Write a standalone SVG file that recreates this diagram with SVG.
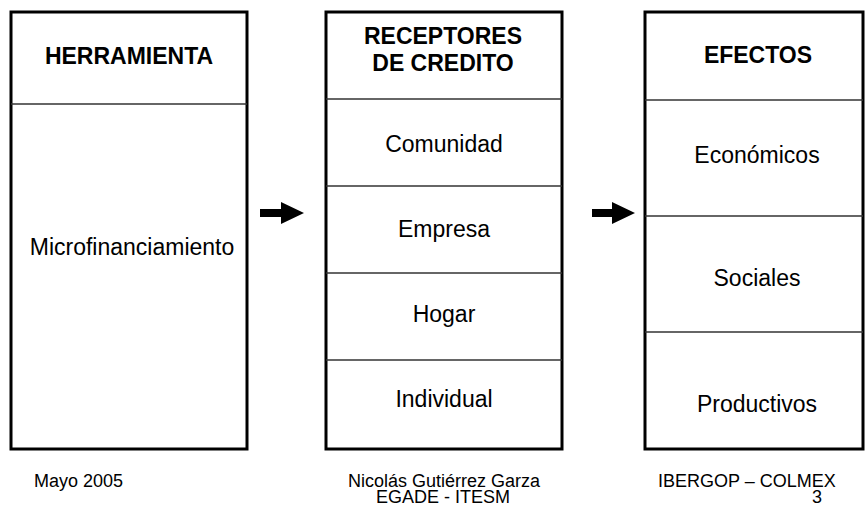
<svg xmlns="http://www.w3.org/2000/svg" width="865" height="508" viewBox="0 0 865 508">
<style>
.box{fill:#fff;stroke:#000;stroke-width:3}
.div{stroke:#333;stroke-width:1.5}
.h{font-family:"Liberation Sans",Arial,sans-serif;font-weight:bold;font-size:23px;fill:#000;text-anchor:middle}
.t{font-family:"Liberation Sans",Arial,sans-serif;font-size:23px;fill:#000;text-anchor:middle}
.f{font-family:"Liberation Sans",Arial,sans-serif;font-size:18px;fill:#000}
.arr{fill:#000}
</style>
<rect width="865" height="508" fill="#fff"/>
<g id="herramienta">
<rect class="box" x="11" y="12" width="236" height="437"/>
<line class="div" x1="11" y1="104" x2="247" y2="104"/>
<text class="h" x="129" y="64">HERRAMIENTA</text>
<text class="t" x="132" y="255">Microfinanciamiento</text>
</g>
<g id="receptores">
<rect class="box" x="326" y="12" width="236" height="437"/>
<line class="div" x1="326" y1="99" x2="562" y2="99"/>
<line class="div" x1="326" y1="186" x2="562" y2="186"/>
<line class="div" x1="326" y1="273" x2="562" y2="273"/>
<line class="div" x1="326" y1="360" x2="562" y2="360"/>
<text class="h" x="443" y="44">RECEPTORES</text>
<text class="h" x="443" y="71">DE CREDITO</text>
<text class="t" x="444" y="152">Comunidad</text>
<text class="t" x="444" y="237">Empresa</text>
<text class="t" x="444" y="322">Hogar</text>
<text class="t" x="444" y="407">Individual</text>
</g>
<g id="efectos">
<rect class="box" x="645" y="12" width="218" height="437"/>
<line class="div" x1="645" y1="100" x2="863" y2="100"/>
<line class="div" x1="645" y1="216" x2="863" y2="216"/>
<line class="div" x1="645" y1="332" x2="863" y2="332"/>
<text class="h" x="758" y="63">EFECTOS</text>
<text class="t" x="757" y="163">Económicos</text>
<text class="t" x="757" y="286">Sociales</text>
<text class="t" x="757" y="412">Productivos</text>
</g>
<g id="connectors">
<polygon class="arr" points="260,209 281,209 281,202 304,213 281,224 281,217 260,217"/>
<polygon class="arr" points="592,209 612,209 612,202 635,213 612,224 612,217 592,217"/>
</g>
<g id="footer">
<text class="f" x="34" y="487">Mayo 2005</text>
<text class="f" text-anchor="middle"><tspan x="444" y="487">Nicolás Gutiérrez Garza</tspan><tspan x="443" y="503">EGADE - ITESM</tspan></text>
<text class="f"><tspan x="658" y="487">IBERGOP – COLMEX</tspan><tspan x="812" y="503">3</tspan></text>
</g>
</svg>
